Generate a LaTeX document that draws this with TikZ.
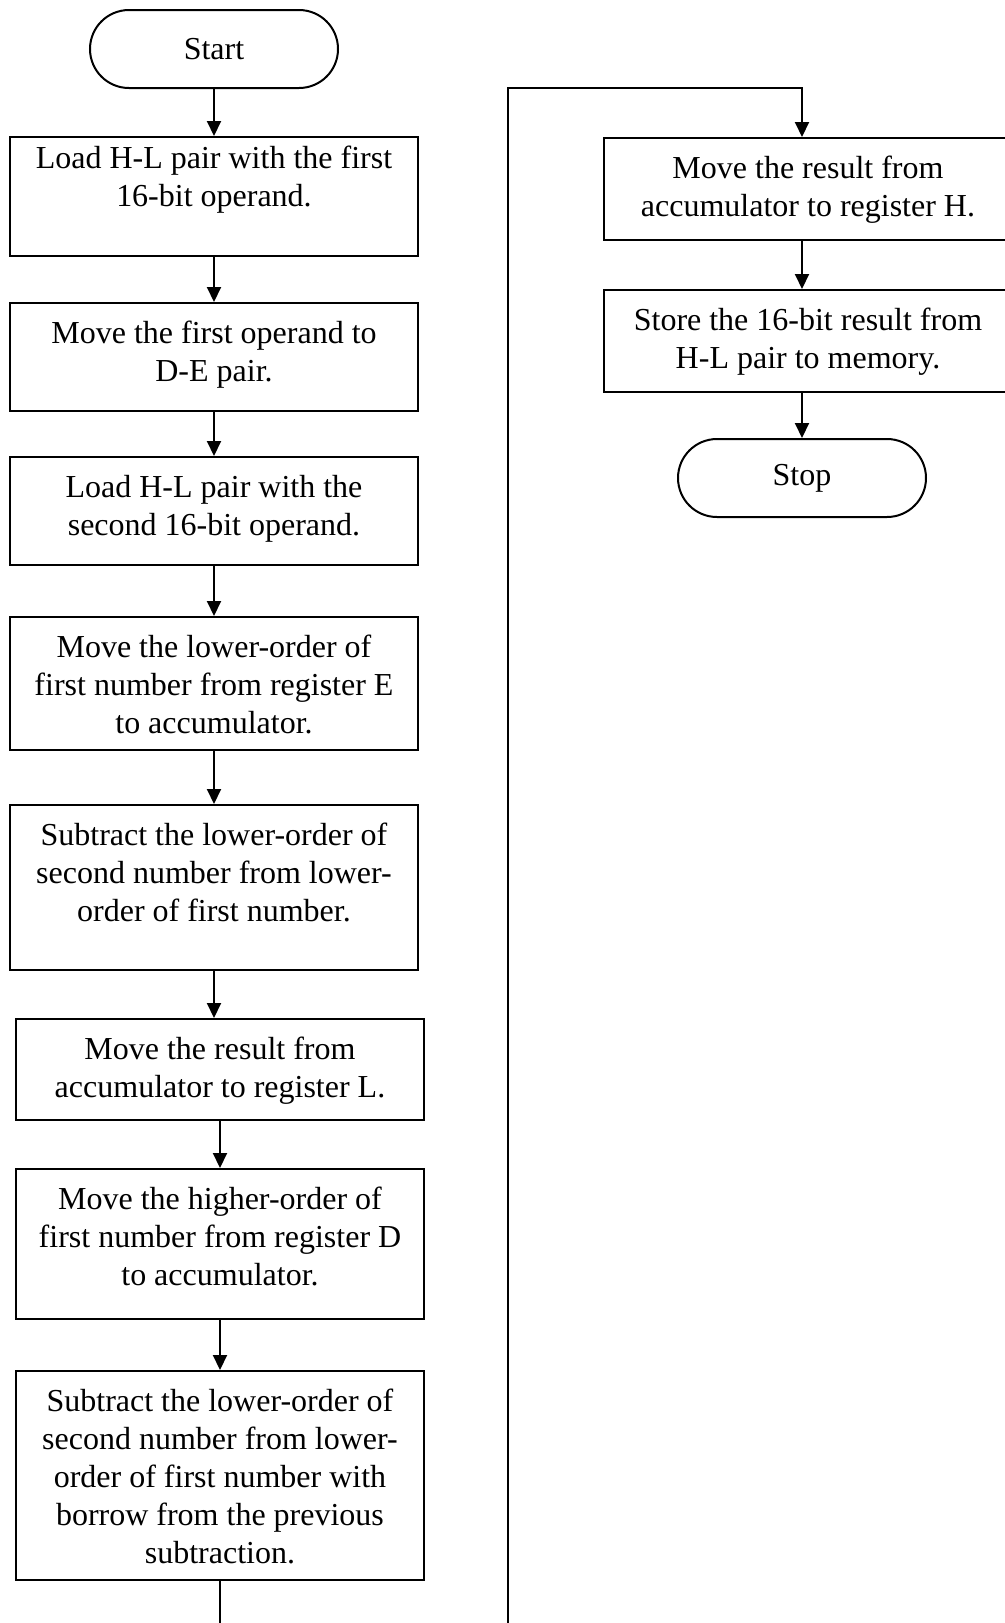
\documentclass[tikz,border=0pt]{standalone}
\usepackage{fontspec}
\setmainfont{Liberation Serif}
\usetikzlibrary{arrows.meta, positioning, shapes.misc}

\begin{document}
\begin{tikzpicture}[
    every node/.style={font=\fontsize{16pt}{19pt}\selectfont}, % Times-like text
    term/.style={
        rounded rectangle,
        draw=black,
        line width=1pt,
        minimum width=128pt,
        minimum height=39pt,
        inner sep=2pt
    },
    procbox/.style={
        rectangle,
        draw=black,
        line width=1pt,
        align=flush center,
        text width=190pt,
        inner xsep=7pt,
        inner ysep=9pt,
        text height=11pt,
        text depth=#1 % box grows below the text
    },
    arrow/.style={
        line width=1pt,
        -{Triangle[length=7.5pt, width=7pt]}
    },
    link/.style={
        line width=1pt
    }
]

% Page frame
\useasboundingbox (0,0) rectangle (502.5pt,-811.5pt);

% Left column
\node[term] (start) at (107pt,-24.5pt) {Start};

\node[procbox=35pt, text height=6.5pt, below=23.5pt of start] (load1) {
    Load H-L pair with the first\\ 16-bit operand.
};
\node[procbox=25pt, below=22.5pt of load1] (movede) {
    Move the first operand to\\ D-E pair.
};
\node[procbox=25pt, below=22pt of movede] (load2) {
    Load H-L pair with the\\ second 16-bit operand.
};
\node[procbox=37.5pt, below=25pt of load2] (movelo) {
    Move the lower-order of\\ first number from register E\\ to accumulator.
};
\node[procbox=53.5pt, below=26.5pt of movelo] (sublo) {
    Subtract the lower-order of\\ second number from lower-\\ order of first number.
};
\node[procbox=21.5pt, below=23.5pt of sublo, xshift=3pt] (movel) {
    Move the result from\\ accumulator to register L.
};
\node[procbox=46pt, below=23.5pt of movel] (movehi) {
    Move the higher-order of\\ first number from register D\\ to accumulator.
};
\node[procbox=75.5pt, below=25pt of movehi] (subhi) {
    Subtract the lower-order of\\ second number from lower-\\ order of first number with\\ borrow from the previous\\ subtraction.
};

% Right column
\node[procbox=22pt, anchor=north] (moveh) at (404pt,-68.5pt) {
    Move the result from\\ accumulator to register H.
};
\node[procbox=22pt, below=24pt of moveh] (store) {
    Store the 16-bit result from\\ H-L pair to memory.
};
\node[term, below=22.5pt of store, xshift=-3pt] (stop) {Stop};

% Flow arrows, left column
\draw[arrow] (start.south) -- (start.south |- load1.north);
\draw[arrow] (load1.south) -- (load1.south |- movede.north);
\draw[arrow] (movede.south) -- (movede.south |- load2.north);
\draw[arrow] (load2.south) -- (load2.south |- movelo.north);
\draw[arrow] (movelo.south) -- (movelo.south |- sublo.north);
\draw[arrow] (sublo.south) -- (sublo.south |- movel.north);
\draw[arrow] (movel.south) -- (movel.south |- movehi.north);
\draw[arrow] (movehi.south) -- (movehi.south |- subhi.north);

% Page break connector
\coordinate (cut1) at (subhi.south |- 0,-813pt);
\coordinate (cut2) at (254pt,-813pt);
\coordinate (ctop) at (254pt,-44pt);
\draw[link] (subhi.south) -- (cut1);
\draw[arrow] (cut2) -- (ctop) -| (stop |- moveh.north);

% Flow arrows, right column
\draw[arrow] (stop |- moveh.south) -- (stop |- store.north);
\draw[arrow] (stop |- store.south) -- (stop.north);

\end{tikzpicture}
\end{document}
